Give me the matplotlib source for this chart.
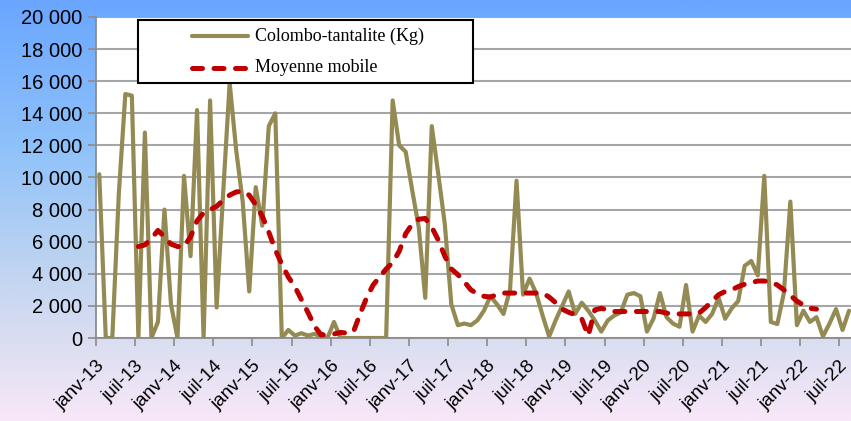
import matplotlib
matplotlib.use("Agg")
import matplotlib.pyplot as plt
from matplotlib.colors import LinearSegmentedColormap
from matplotlib.patches import Rectangle
from matplotlib.lines import Line2D
import numpy as np

# données mensuelles (janv-13 -> août-22)
production = [10200, 0, 0, 9000, 15200, 15100, 0, 12800, 0, 1000,
              8000, 2100, 0, 10100, 5100, 14200, 0, 14800, 1900, 9000,
              15900, 11700, 8500, 2900, 9400, 7000, 13200, 14000, 0, 500,
              150, 300, 150, 250, 100, 0, 1000, 0, 0, 0,
              0, 0, 0, 0, 0, 14800, 12000, 11600, 9200, 6900,
              2500, 13200, 10200, 7100, 2100, 800, 900, 800, 1100, 1700,
              2600, 2100, 1500, 3000, 9800, 2700, 3700, 2800, 1400, 100,
              1100, 2000, 2900, 1500, 2200, 1700, 1100, 400, 1100, 1400,
              1600, 2700, 2800, 2600, 400, 1200, 2800, 1300, 900, 700,
              3300, 400, 1400, 1000, 1500, 2500, 1200, 1850, 2300, 4500,
              4800, 3900, 10100, 1000, 870, 2800, 8500, 800, 1700, 1000,
              1300, 100, 900, 1800, 500, 1700]

# moyenne mobile (de juil-13 à mars-22)
ma_start = 6
moyenne_mobile = [5700, 5800, 6200, 6700, 6300, 5850, 5700, 5700, 6300, 7300,
                  7800, 8000, 8200, 8600, 8900, 9100, 9150, 8900, 8300, 7600,
                  6600, 5500, 4600, 3800, 3200, 2400, 1600, 750, 200, 200,
                  250, 350, 300, 400, 1500, 2500, 3300, 3800, 4300, 4700,
                  5400, 6500, 7100, 7400, 7450, 6900, 6100, 5100, 4300, 3950,
                  3500, 3000, 2750, 2600, 2550, 2700, 2800, 2800, 2800, 2800,
                  2800, 2800, 2800, 2550, 2200, 1800, 1600, 1450, 1200, 150,
                  1750, 1850, 1750, 1650, 1650, 1650, 1650, 1650, 1650, 1650,
                  1650, 1550, 1500, 1500, 1500, 1500, 1550, 1900, 2300, 2700,
                  2900, 3000, 3200, 3350, 3450, 3550, 3550, 3500, 3300, 3000,
                  2650, 2300, 2050, 1850, 1800]

mois = ['janv', 'juil']
annees = list(range(13, 23))
tick_labels = [f'{m}-{a}' for a in annees for m in mois]
legend_labels = ['Colombo-tantalite (Kg)', 'Moyenne mobile']

W, H = 851, 421
fig = plt.figure(figsize=(W / 100, H / 100), dpi=100)

# fond en dégradé bleu -> rose
bg = fig.add_axes([0, 0, 1, 1], zorder=-10)
cmap = LinearSegmentedColormap.from_list('fond', [
    (0.0, '#6aa6ff'), (0.35, '#8fc2fa'), (0.62, '#bcd3f1'),
    (0.80, '#d9ddf1'), (1.0, '#f8e8f8')])
grad = np.linspace(0, 1, 256).reshape(-1, 1)
bg.imshow(grad, aspect='auto', cmap=cmap, extent=[0, 1, 0, 1])
bg.axis('off')

ax = fig.add_axes([96 / W, 1 - 338 / H, 1 - 96 / W, (338 - 17) / H])
ax.set_facecolor('white')

olive = '#948a54'
rouge = '#c00000'
x = np.arange(len(production))
x_ma = np.arange(ma_start, ma_start + len(moyenne_mobile))

ax.plot(x, production, color=olive, lw=3.0, solid_joinstyle='round',
        solid_capstyle='round', zorder=3)
ax.plot(x_ma, moyenne_mobile, color=rouge, lw=3.6, dashes=(2.0, 2.3),
        dash_capstyle='round', zorder=4)

ax.set_ylim(0, 20000)
ax.set_xlim(-0.5, 115.3)
yt = np.arange(0, 20001, 2000)
ax.set_yticks(yt)
ax.set_yticklabels([f'{v:,.0f}'.replace(',', ' ') for v in yt],
                   fontsize=14.5, family='Liberation Sans')
ax.set_xticks(np.arange(0, 6 * len(tick_labels), 6) - 0.5)
ax.set_xticklabels(tick_labels, rotation=45, ha='right', va='top',
                   rotation_mode='anchor', fontsize=13.5, family='Liberation Sans')
ax.tick_params(axis='both', color='#8c8c8c', length=6, width=1.2)
ax.tick_params(axis='y', pad=4)
ax.tick_params(axis='x', pad=8)

ax.yaxis.grid(True, color='#a6a6a6', lw=1.5)
ax.set_axisbelow(True)
for s in ['top', 'right']:
    ax.spines[s].set_visible(False)
for s in ['left', 'bottom']:
    ax.spines[s].set_color('#8c8c8c')
    ax.spines[s].set_linewidth(1.3)

# légende dessinée à la main (boîte, traits, textes) en pixels de la figure
def px(xp, yp):
    return xp / W, 1 - yp / H

x0, y0 = px(138, 83)
x1, y1 = px(473, 20)
fig.patches.append(Rectangle((x0, y0), x1 - x0, y1 - y0, transform=fig.transFigure,
                             facecolor='white', edgecolor='black', lw=1.5, zorder=10))
for yp, lab, col, ls in zip([36, 68], legend_labels, [olive, rouge],
                            [dict(lw=3.0, solid_capstyle='round'),
                             dict(lw=3.6, dashes=(2.0, 2.3), dash_capstyle='round')]):
    (lx0, ly), (lx1, _) = px(192, yp), px(248, yp)
    fig.lines.append(Line2D([lx0, lx1], [ly, ly], color=col, transform=fig.transFigure,
                            zorder=11, **ls))
    fig.text(255 / W, ly, lab, family='Liberation Serif', fontsize=13,
             va='center', ha='left', zorder=12)

fig.savefig('out.png', dpi=100, facecolor=fig.get_facecolor())
plt.close(fig)
